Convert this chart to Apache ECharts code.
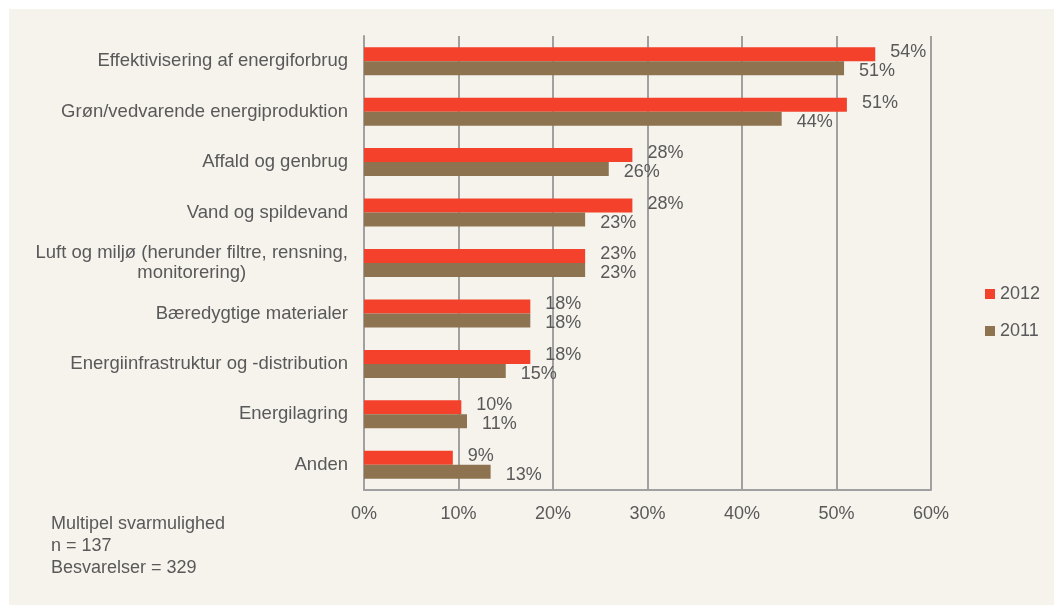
<!DOCTYPE html>
<html>
<head>
<meta charset="utf-8">
<title>Cleantech fokusområder 2011-2012</title>
<script src="https://cdn.jsdelivr.net/npm/echarts@6/dist/echarts.min.js"></script>
<style>
  html, body { margin: 0; padding: 0; background: #ffffff; }
  #chart {
    position: absolute;
    left: 9px;
    top: 9px;
    width: 1045px;
    height: 596px;
    background: #f6f2ec;
  }
</style>
</head>
<body>
<div id="chart"></div>
<script>
// Categories top to bottom, values in percent
const categories = [
  'Effektivisering af energiforbrug',
  'Grøn/vedvarende energiproduktion',
  'Affald og genbrug',
  'Vand og spildevand',
  'Luft og miljø (herunder filtre, rensning,\nmonitorering)',
  'Bæredygtige materialer',
  'Energiinfrastruktur og -distribution',
  'Energilagring',
  'Anden'
];
const values2012 = [54.1, 51.1, 28.4, 28.4, 23.4, 17.6, 17.6, 10.3, 9.4];
const values2011 = [50.8, 44.2, 25.9, 23.4, 23.4, 17.6, 15.0, 10.9, 13.4];
const seriesNames = ['2012', '2011'];
const xTicks = [0, 10, 20, 30, 40, 50, 60];
const noteLines = ['Multipel svarmulighed', 'n = 137', 'Besvarelser = 329'];

const FONT = '"Liberation Sans", Arial, sans-serif';
const TEXT = '#595959';
const GRID = '#a0a0a0';

const chart = echarts.init(document.getElementById('chart'));

const labelStyle = (dy) => ({
  show: true,
  position: 'right',
  distance: 15,
  offset: [0, dy],
  color: TEXT,
  fontFamily: FONT,
  fontSize: 18,
  formatter: p => Math.round(p.value) + '%'
});

chart.setOption({
  backgroundColor: 'transparent',
  animation: false,
  textStyle: { fontFamily: FONT },
  grid: { left: 355, top: 27, width: 567, height: 454, containLabel: false },
  legend: {
    orient: 'vertical',
    left: 971,
    top: 271,
    itemWidth: 10,
    itemHeight: 10,
    itemGap: 19,
    icon: 'rect',
    textStyle: { color: TEXT, fontSize: 18, fontFamily: FONT },
    data: seriesNames
  },
  xAxis: {
    type: 'value',
    min: xTicks[0],
    max: xTicks[xTicks.length - 1],
    interval: 10,
    axisLine: { show: true, lineStyle: { color: GRID, width: 2 } },
    axisTick: { show: false },
    splitLine: { show: true, lineStyle: { color: GRID, width: 2 } },
    axisLabel: {
      margin: 15,
      color: TEXT,
      fontSize: 18,
      fontFamily: FONT,
      formatter: v => v + '%'
    }
  },
  yAxis: {
    type: 'category',
    inverse: true,
    data: categories,
    axisLine: { show: true, lineStyle: { color: GRID, width: 2 } },
    axisTick: { show: false },
    axisLabel: {
      margin: 16,
      color: TEXT,
      fontSize: 18.5,
      fontFamily: FONT,
      lineHeight: 20,
      formatter: v => v.indexOf('\n') >= 0
        ? v.split('\n').map(s => '{c|' + s + '}').join('\n')
        : v,
      rich: {
        c: { align: 'center', color: TEXT, fontSize: 18.5, fontFamily: FONT, lineHeight: 20 }
      }
    }
  },
  series: [
    {
      name: seriesNames[0],
      type: 'bar',
      data: values2012,
      barWidth: 14,
      barGap: '0%',
      itemStyle: { color: '#f4412b' },
      label: labelStyle(-2)
    },
    {
      name: seriesNames[1],
      type: 'bar',
      data: values2011,
      barWidth: 14,
      itemStyle: { color: '#8e7350' },
      label: labelStyle(3)
    }
  ],
  graphic: [
    {
      type: 'text',
      left: 42,
      top: 504,
      style: {
        text: noteLines.join('\n'),
        fill: TEXT,
        font: '18px ' + FONT,
        lineHeight: 22
      }
    }
  ]
});
</script>
</body>
</html>
